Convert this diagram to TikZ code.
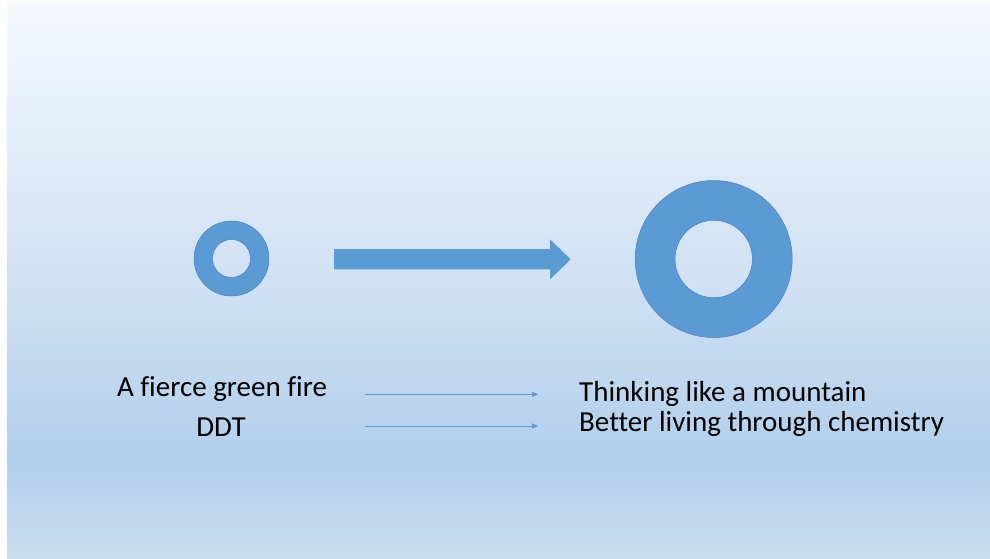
\documentclass[tikz,border=0pt]{standalone}
\usepackage{fontspec}
\setmainfont[Ligatures=NoCommon]{Carlito}
\usetikzlibrary{arrows.meta,positioning}
\definecolor{ringblue}{HTML}{5B9BD5}
\definecolor{ringedge}{HTML}{4F81BD}
\definecolor{bgtop}{HTML}{F6F9FD}
\definecolor{bgupper}{HTML}{E6EFF9}
\definecolor{bgmid}{HTML}{D0E1F3}
\definecolor{bglow}{HTML}{B2CFEB}
\definecolor{bgbottom}{HTML}{CADDF0}
% stops between 25bp (bottom of the slide) and 75bp (top)
\pgfdeclareverticalshading{slidebg}{100bp}{%
  color(0bp)=(bgbottom); color(25bp)=(bgbottom); color(34bp)=(bglow);
  color(50bp)=(bgmid); color(65.5bp)=(bgupper); color(75bp)=(bgtop);
  color(100bp)=(bgtop)}
\begin{document}
\begin{tikzpicture}[x=1pt,y=-1pt,>=Latex,
    every node/.style={font=\fontsize{29}{34}\selectfont,inner sep=0pt},
    ring/.style={fill=ringblue,draw=ringedge,line width=0.5pt,even odd rule},
    thinarrow/.style={draw=ringblue,line width=1pt,-{Triangle[length=6pt,width=5pt]}}]
  \useasboundingbox (0,0) rectangle (990,558);
  \fill[white] (0,0) rectangle (990,558);
  \shade[shading=slidebg] (7,3) rectangle (990,558);
  % rings
  \coordinate (small) at (231.5,258.5);
  \coordinate (large) at (713.7,259);
  \path[ring] (small) circle (37.5) (small) circle (19);
  \path[ring] (large) circle (78.5) (large) circle (38.7);
  % block arrow between the rings
  \fill[ringblue] (334,249) -- (550,249) -- (550,239.3) -- (570.7,259.3)
    -- (550,279.3) -- (550,269.3) -- (334,269.3) -- cycle;
  % labels
  \node[anchor=base] (fire) at (222,396.7) {A fierce green fire};
  \node[anchor=base] (ddt) at (221,436.7) {DDT};
  \node[anchor=base west] (mountain) at (579,401) {Thinking like a mountain};
  \node[anchor=base west] (chem) at (579,431.7) {Better living through chemistry};
  \coordinate (fireS) at (365,394.3);
  \coordinate (fireE) at (538,394.3);
  \coordinate (ddtS) at (365,426);
  \coordinate (ddtE) at (538,426);
  \draw[thinarrow] (fireS) -- (fireE);
  \draw[thinarrow] (ddtS) -- (ddtE);
\end{tikzpicture}
\end{document}
